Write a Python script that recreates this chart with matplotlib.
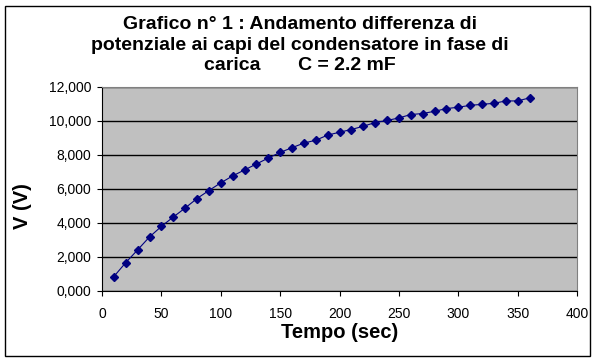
import matplotlib.pyplot as plt
from matplotlib.patches import Rectangle
from matplotlib.ticker import FuncFormatter

plt.rcParams['font.family'] = ['Liberation Sans', 'DejaVu Sans']

tempo = [10, 20, 30, 40, 50, 60, 70, 80, 90, 100, 110, 120, 130, 140, 150, 160, 170, 180,
         190, 200, 210, 220, 230, 240, 250, 260, 270, 280, 290, 300, 310, 320, 330, 340, 350, 360]
tensione = [0.85, 1.67, 2.42, 3.18, 3.80, 4.35, 4.88, 5.44, 5.91, 6.36, 6.77, 7.12, 7.47, 7.82,
            8.15, 8.43, 8.70, 8.87, 9.17, 9.34, 9.50, 9.69, 9.91, 10.03, 10.18, 10.38, 10.44,
            10.57, 10.73, 10.81, 10.92, 10.98, 11.04, 11.18, 11.18, 11.36]

W, H = 600, 363
fig = plt.figure(figsize=(6, 3.63), dpi=100)
fig.patches.append(Rectangle((5 / W, 7 / H), 585 / W, 350 / H, transform=fig.transFigure,
                             fill=False, edgecolor='black', linewidth=1))

ax = fig.add_axes([102 / W, 1 - 291 / H, 475 / W, 204 / H])
ax.set_facecolor('#C0C0C0')
ax.plot(tempo, tensione, color='#000080', linewidth=0.8, marker='D', markersize=4.5,
        markerfacecolor='#000080', markeredgecolor='#000080')

ax.set_xlim(0, 400)
ax.set_ylim(0, 12)
ax.set_xticks(range(0, 401, 50))
ax.set_yticks(range(0, 13, 2))
ax.yaxis.set_major_formatter(FuncFormatter(lambda v, p: f'{int(v)},000'))
ax.grid(axis='y', color='black', linewidth=1)
ax.set_axisbelow(True)

for s in ['top', 'right']:
    ax.spines[s].set_color('#808080')
for s in ['left', 'bottom']:
    ax.spines[s].set_color('black')
ax.tick_params(labelsize=10, length=3.6, direction='out', colors='black')
ax.tick_params(axis='x', pad=8)
ax.tick_params(axis='y', pad=4)

ax.set_xlabel('Tempo (sec)', fontsize=14.5, fontweight='bold', labelpad=1)
fig.text(23 / W, 1 - 206 / H, 'V (V)', rotation=90, ha='center', va='center',
         fontsize=14.5, fontweight='bold')

fig.text(0.5, 1 - 45 / H, 'Grafico n° 1 : Andamento differenza di\n'
         'potenziale ai capi del condensatore in fase di\n'
         'carica       C = 2.2 mF', ha='center', va='center', fontsize=14,
         fontweight='bold', linespacing=1.3)

plt.savefig('out.png', dpi=100)
